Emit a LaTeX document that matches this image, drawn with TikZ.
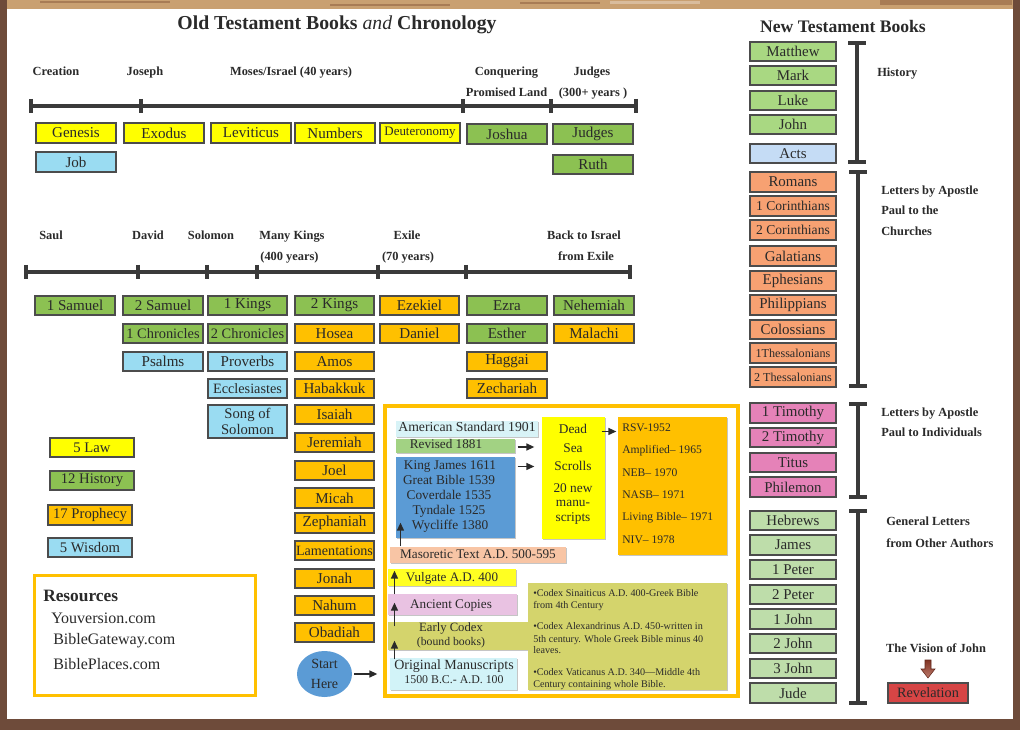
\documentclass[tikz,border=0pt]{standalone}
\usepackage{fontspec}
\setmainfont{Liberation Serif}
\usetikzlibrary{arrows.meta,shapes.geometric,calc,shadows}
\definecolor{otY}{HTML}{FFFF00}
\definecolor{otG}{HTML}{8CC152}
\definecolor{otO}{HTML}{FFC000}
\definecolor{otB}{HTML}{9ADCF2}
\definecolor{ntG}{HTML}{A9D882}
\definecolor{ntA}{HTML}{C5DCF5}
\definecolor{ntS}{HTML}{F7A172}
\definecolor{ntP}{HTML}{E582B8}
\definecolor{ntL}{HTML}{BEDDAA}
\definecolor{ntR}{HTML}{D64545}
\definecolor{stB}{HTML}{5B9BD5}
\definecolor{kjB}{HTML}{5B9BD5}
\definecolor{amC}{HTML}{D8F3F7}
\definecolor{rvG}{HTML}{A2D283}
\definecolor{msP}{HTML}{F8C5A5}
\definecolor{vgY}{HTML}{FFFF22}
\definecolor{acP}{HTML}{E9C2E2}
\definecolor{cdO}{HTML}{D4D46C}
\definecolor{orC}{HTML}{D2F3F8}
\definecolor{gold}{HTML}{FFC000}
\definecolor{ink}{HTML}{2A2A2A}
\definecolor{rulec}{HTML}{3A3A3A}
\definecolor{frameB}{HTML}{6E4B3A}
\definecolor{wood}{HTML}{C9A071}
\definecolor{woodD}{HTML}{A87C55}
\definecolor{arrR}{HTML}{A0402C}

% \BK[opts]{name}{fill}{x1}{y1}{x2}{y2}{text}
\newcommand{\BK}[8][]{\node[bookbox,fill=#3,minimum width={(#6-#4)*0.75pt},minimum height={(#7-#5)*0.75pt},#1] (#2) at ({(#4+#6)/2},{(#5+#7)/2}) {#8};}

\begin{document}
\begin{tikzpicture}[x=0.75pt,y=-0.75pt,
 bookbox/.style={draw=black!70,line width=0.8pt,inner sep=0pt,text=ink,font=\fontsize{11.3}{12}\selectfont},
 ntbox/.style={font=\fontsize{11.2}{12}\selectfont},
 lgbox/.style={font=\fontsize{11}{12}\selectfont},
 lbl/.style={font=\bfseries\fontsize{9.3}{11}\selectfont,text=ink,inner sep=0pt,anchor=base},
 lblw/.style={lbl,anchor=base west},
 msbox/.style={draw=none,drop shadow={shadow xshift=0.8pt,shadow yshift=-0.8pt,fill=black!45}},
 mstxt/.style={font=\fontsize{10}{11}\selectfont,text=ink,inner sep=0pt,anchor=base},
 nvtxt/.style={font=\fontsize{8.7}{10}\selectfont,text=ink,inner sep=0pt,anchor=base west},
 cdtxt/.style={font=\fontsize{7.6}{9}\selectfont,text=ink,inner sep=0pt,anchor=base west},
 restxt/.style={font=\fontsize{12}{14}\selectfont,text=ink,inner sep=0pt,anchor=base west},
 arr/.style={-{Triangle[length=6pt,width=5pt]},line width=1.4pt,draw=ink},
 tl/.style={line width=2.3pt,draw=rulec},
 tickmark/.style={line width=2.6pt,draw=rulec},
 brk/.style={line width=2.3pt,draw=rulec},
 brkcap/.style={line width=3pt,draw=rulec},
]
\useasboundingbox (0,0) rectangle (1028,730);

% ---------- paper and frame ----------
\fill[white] (0,0) rectangle (1028,730);
\fill[wood] (0,0) rectangle (1020,9);
\fill[woodD] (40,1) rectangle (170,3);
\fill[woodD] (330,4) rectangle (450,6);
\fill[woodD] (520,2) rectangle (600,4);
\fill[wood!70!white] (610,1) rectangle (700,4);
\fill[woodD] (880,0) rectangle (1012,5);
\fill[frameB] (0,0) rectangle (7,730);
\fill[frameB] (1013,0) rectangle (1020,730);
\fill[frameB] (0,719) rectangle (1020,730);

% ---------- titles ----------
\node[font=\bfseries\fontsize{14.8}{17}\selectfont,text=ink,anchor=base,inner sep=0pt] (ottitle) at (337,30) {Old Testament Books {\mdseries\itshape and} Chronology};
\node[font=\bfseries\fontsize{13.2}{15}\selectfont,text=ink,anchor=base,inner sep=0pt] (nttitle) at (843,33) {New Testament Books};

% ---------- timeline 1 ----------
\node[lbl] (creation) at (56,76) {Creation};
\node[lbl] (joseph) at (145,76) {Joseph};
\node[lbl] (moses) at (291,76) {Moses/Israel (40 years)};
\node[lbl] (conq) at (506.5,76) {Conquering};
\node[lbl] (promland) at (506.5,97) {Promised Land};
\node[lbl] (judgesl) at (592,76) {Judges};
\node[lbl] (judgesy) at (593,97) {(300+ years )};
\draw[tl] (31,106) -- (636,106);
\foreach \x in {31,141,463,551,636} \draw[tickmark] (\x,99) -- (\x,113);

\BK{genesis}{otY}{36}{123}{116}{143}{Genesis}
\BK{exodus}{otY}{124}{123}{204}{143}{Exodus}
\BK{leviticus}{otY}{211}{123}{291}{143}{Leviticus}
\BK{numbers}{otY}{295}{123}{375}{143}{Numbers}
\BK[font=\fontsize{9.7}{10}\selectfont]{deut}{otY}{380}{123}{460}{143}{Deuteronomy}
\BK{joshua}{otG}{467}{124}{547}{144}{Joshua}
\BK{judges}{otG}{553}{124}{633}{144}{Judges}
\BK{job}{otB}{36}{152}{116}{172}{Job}
\BK{ruth}{otG}{553}{155}{633}{174}{Ruth}

% ---------- timeline 2 ----------
\node[lbl] (saul) at (51,240) {Saul};
\node[lbl] (david) at (148,240) {David};
\node[lbl] (solomon) at (211,240) {Solomon};
\node[lbl] (manyk) at (292,240) {Many Kings};
\node[lbl] (manyy) at (289.5,261) {(400 years)};
\node[lbl] (exile) at (407,240) {Exile};
\node[lbl] (exiley) at (408,261) {(70 years)};
\node[lbl] (back) at (584,240) {Back to Israel};
\node[lbl] (fromex) at (586,261) {from Exile};
\draw[tl] (26,272) -- (630,272);
\foreach \x in {26,138,207,257,378,466,630} \draw[tickmark] (\x,265) -- (\x,279);

\BK{sam1}{otG}{35}{296}{115}{315}{1 Samuel}
\BK{sam2}{otG}{123}{296}{203}{315}{2 Samuel}
\BK{kgs1}{otG}{208}{296}{287}{315}{1 Kings}
\BK{kgs2}{otG}{295}{296}{374}{315}{2 Kings}
\BK{ezekiel}{otO}{380}{296}{459}{315}{Ezekiel}
\BK{ezra}{otG}{467}{296}{547}{315}{Ezra}
\BK{nehemiah}{otG}{554}{296}{634}{315}{Nehemiah}

\BK[font=\fontsize{10.8}{11}\selectfont]{chr1}{otG}{123}{324}{203}{343}{1 Chronicles}
\BK[font=\fontsize{10.8}{11}\selectfont]{chr2}{otG}{208}{324}{287}{343}{2 Chronicles}
\BK{hosea}{otO}{295}{324}{374}{343}{Hosea}
\BK{daniel}{otO}{380}{324}{459}{343}{Daniel}
\BK{esther}{otG}{467}{324}{547}{343}{Esther}
\BK{malachi}{otO}{554}{324}{634}{343}{Malachi}

\BK{psalms}{otB}{123}{352}{203}{371}{Psalms}
\BK{proverbs}{otB}{208}{352}{287}{371}{Proverbs}
\BK{amos}{otO}{295}{352}{374}{371}{Amos}
\BK{haggai}{otO}{467}{352}{547}{371}{Haggai}

\BK[font=\fontsize{10.7}{11}\selectfont]{eccl}{otB}{208}{379}{287}{398}{Ecclesiastes}
\BK{habakkuk}{otO}{295}{379}{374}{398}{Habakkuk}
\BK{zechariah}{otO}{467}{379}{547}{398}{Zechariah}

\BK[align=center,font=\fontsize{11}{12}\selectfont]{song}{otB}{208}{405}{287}{438}{Song of\\Solomon}
\BK{isaiah}{otO}{295}{405}{374}{424}{Isaiah}
\BK{jeremiah}{otO}{295}{433}{374}{452}{Jeremiah}
\BK{joel}{otO}{295}{461}{374}{480}{Joel}
\BK{micah}{otO}{295}{488}{374}{508}{Micah}
\BK{zeph}{otO}{295}{513}{374}{533}{Zephaniah}
\BK[font=\fontsize{10.6}{11}\selectfont]{lam}{otO}{295}{541}{374}{560}{Lamentations}
\BK{jonah}{otO}{295}{569}{374}{588}{Jonah}
\BK{nahum}{otO}{295}{596}{374}{615}{Nahum}
\BK{obadiah}{otO}{295}{623}{374}{642}{Obadiah}

% ---------- legend ----------
\BK[lgbox]{law}{otY}{50}{438}{134}{457}{5 Law}
\BK[lgbox]{hist}{otG}{50}{471}{134}{490}{12 History}
\BK[lgbox]{proph}{otO}{48}{505}{132}{525}{17 Prophecy}
\BK[lgbox]{wisdom}{otB}{48}{538}{132}{557}{5 Wisdom}

% ---------- resources ----------
\node[draw=gold,line width=2.2pt,minimum width={221*0.75pt},minimum height={120*0.75pt},inner sep=0pt] (res) at (145,635.5) {};
\node[font=\bfseries\fontsize{13}{15}\selectfont,text=ink,inner sep=0pt,anchor=base west] (restitle) at (43,601) {Resources};
\node[restxt] (res1) at (51,623) {Youversion.com};
\node[restxt] (res2) at (53,644) {BibleGateway.com};
\node[restxt] (res3) at (53,669) {BiblePlaces.com};

% ---------- manuscripts ----------
\node[draw=gold,line width=3pt,minimum width={353*0.75pt},minimum height={289*0.75pt},inner sep=0pt] (msframe) at (561,551) {};

\BK[msbox]{amstd}{amC}{396}{421}{538}{437}{}
\node[mstxt,font=\fontsize{10.3}{11}\selectfont] (amstdT) at (467,432) {American Standard 1901};
\BK[msbox]{revd}{rvG}{396}{439}{515}{453}{}
\node[mstxt,font=\fontsize{9.9}{11}\selectfont] (revdT) at (446,449) {Revised 1881};
\BK[msbox]{kj}{kjB}{396}{457}{515}{538}{}
\node[mstxt] (kj1) at (450,470) {King James 1611};
\node[mstxt] (kj2) at (449,485) {Great Bible 1539};
\node[mstxt] (kj3) at (449,500) {Coverdale 1535};
\node[mstxt] (kj4) at (449,515) {Tyndale 1525};
\node[mstxt] (kj5) at (450,530) {Wycliffe 1380};

\BK[msbox]{dss}{otY}{542}{417}{605}{539}{}
\node[mstxt] (dss1) at (573,434) {Dead};
\node[mstxt] (dss2) at (573,453) {Sea};
\node[mstxt] (dss3) at (573,471) {Scrolls};
\node[mstxt] (dss4) at (573,493) {20 new};
\node[mstxt] (dss5) at (573,507) {manu-};
\node[mstxt] (dss6) at (573,522) {scripts};

\BK[msbox]{nv}{otO}{618}{417}{727}{555}{}
\node[nvtxt] (nv1) at (622,432) {RSV-1952};
\node[nvtxt] (nv2) at (622,454) {Amplified– 1965};
\node[nvtxt] (nv3) at (622,477) {NEB– 1970};
\node[nvtxt] (nv4) at (622,499) {NASB– 1971};
\node[nvtxt] (nv5) at (622,521) {Living Bible– 1971};
\node[nvtxt] (nv6) at (622,543) {NIV– 1978};

\BK[msbox]{maso}{msP}{390}{547}{566}{563}{}
\node[mstxt,font=\fontsize{9.9}{11}\selectfont] (masoT) at (478,558) {Masoretic Text A.D. 500-595};
\BK[msbox]{vulg}{vgY}{388}{569}{516}{586}{}
\node[mstxt,font=\fontsize{9.8}{11}\selectfont] (vulgT) at (452,581) {Vulgate A.D. 400};
\BK[msbox]{anc}{acP}{388}{594}{517}{615}{}
\node[mstxt,font=\fontsize{9.9}{11}\selectfont] (ancT) at (451,608) {Ancient Copies};
\BK[msbox]{early}{cdO}{388}{622}{528}{650}{}
\BK[msbox]{codex}{cdO}{528}{583}{727}{690}{}
\node[mstxt,font=\fontsize{9.5}{11}\selectfont] (early1) at (451,631.5) {Early Codex};
\node[mstxt,font=\fontsize{8.8}{10}\selectfont] (early2) at (451,645) {(bound books)};
\node[cdtxt] (cd1) at (533,596) {\textbullet Codex Sinaiticus A.D. 400-Greek Bible};
\node[cdtxt] (cd2) at (533,608) {from 4th Century};
\node[cdtxt] (cd3) at (533,629) {\textbullet Codex Alexandrinus A.D. 450-written in};
\node[cdtxt] (cd4) at (533,642) {5th century. Whole Greek Bible minus 40};
\node[cdtxt] (cd5) at (533,653) {leaves.};
\node[cdtxt] (cd6) at (533,675) {\textbullet Codex Vaticanus A.D. 340—Middle 4th};
\node[cdtxt] (cd7) at (533,687) {Century containing whole Bible.};
\BK[msbox]{orig}{orC}{390}{658}{517}{690}{}
\node[mstxt,font=\fontsize{10.5}{11}\selectfont] (orig1) at (454,669) {Original Manuscripts};
\node[mstxt,font=\fontsize{8.9}{10}\selectfont] (orig2) at (454,683) {1500 B.C.- A.D. 100};

\node[ellipse,fill=stB,minimum width={55*0.75pt},minimum height={46*0.75pt},inner sep=0pt,align=center,font=\fontsize{10.5}{15}\selectfont,text=ink] (start) at (324.5,674) {Start\\Here};

% arrows
\draw[arr,shorten <=1.5pt,shorten >=9pt] (start.east) -- (start.east -| orig.west);
\draw[arr] ($(orig.north west)+(5,2)$) -- ($(early.south west)+(7,-10)$);
\draw[arr] ($(early.north west)+(7,5)$) -- ($(anc.south west)+(7,-13)$);
\draw[arr] ($(anc.north west)+(7,1)$) -- ($(vulg.south west)+(7,-16)$);
\draw[arr] ($(maso.north west)+(11,0)$) -- ($(kj.south west)+(5,-16)$);
\draw[arr] ($(revd.east)+(2,1)$) -- ($(revd.east -| dss.west)+(-7,1)$);
\draw[arr] ($(kj.north east)+(2,10)$) -- ($(kj.north east -| dss.west)+(-7,10)$);
\draw[arr] ($(dss.north east)+(-4,15)$) -- ($(nv.north west)+(-1,15)$);

% ---------- New Testament ----------
\BK[ntbox]{matthew}{ntG}{750}{42}{836}{61}{Matthew}
\BK[ntbox]{mark}{ntG}{750}{66}{836}{85}{Mark}
\BK[ntbox]{luke}{ntG}{750}{91}{836}{110}{Luke}
\BK[ntbox]{john}{ntG}{750}{115}{836}{134}{John}
\BK[ntbox]{acts}{ntA}{750}{144}{836}{163}{Acts}

\BK[ntbox]{romans}{ntS}{750}{172}{836}{192}{Romans}
\BK[font=\fontsize{10.2}{11}\selectfont]{cor1}{ntS}{750}{196}{836}{216}{1 Corinthians}
\BK[font=\fontsize{10.2}{11}\selectfont]{cor2}{ntS}{750}{220}{836}{240}{2 Corinthians}
\BK[ntbox]{galatians}{ntS}{750}{246}{836}{266}{Galatians}
\BK[ntbox]{ephesians}{ntS}{750}{271}{836}{291}{Ephesians}
\BK[ntbox]{philippians}{ntS}{750}{295}{836}{315}{Philippians}
\BK[ntbox]{colossians}{ntS}{750}{320}{836}{339}{Colossians}
\BK[font=\fontsize{9.1}{10}\selectfont]{thes1}{ntS}{750}{343}{836}{363}{1Thessalonians}
\BK[font=\fontsize{9.1}{10}\selectfont]{thes2}{ntS}{750}{367}{836}{387}{2 Thessalonians}

\BK[ntbox]{tim1}{ntP}{750}{403}{836}{423}{1 Timothy}
\BK[ntbox]{tim2}{ntP}{750}{428}{836}{447}{2 Timothy}
\BK[ntbox]{titus}{ntP}{750}{453}{836}{472}{Titus}
\BK[ntbox]{philemon}{ntP}{750}{477}{836}{497}{Philemon}

\BK[ntbox]{hebrews}{ntL}{750}{511}{836}{530}{Hebrews}
\BK[ntbox]{james}{ntL}{750}{535}{836}{555}{James}
\BK[ntbox]{pet1}{ntL}{750}{560}{836}{579}{1 Peter}
\BK[ntbox]{pet2}{ntL}{750}{585}{836}{604}{2 Peter}
\BK[ntbox]{jn1}{ntL}{750}{609}{836}{629}{1 John}
\BK[ntbox]{jn2}{ntL}{750}{634}{836}{653}{2 John}
\BK[ntbox]{jn3}{ntL}{750}{659}{836}{678}{3 John}
\BK[ntbox]{jude}{ntL}{750}{683}{836}{703}{Jude}

\BK[font=\fontsize{10.7}{11}\selectfont]{revl}{ntR}{888}{683}{968}{703}{Revelation}

% brackets
\draw[brk] (857,43) -- (857,162);
\draw[brkcap] (848,43) -- (866,43) (848,162) -- (866,162);
\draw[brk] (858,172) -- (858,386);
\draw[brkcap] (849,172) -- (867,172) (849,386) -- (867,386);
\draw[brk] (858,404) -- (858,497);
\draw[brkcap] (849,404) -- (867,404) (849,497) -- (867,497);
\draw[brk] (858,511) -- (858,703);
\draw[brkcap] (849,511) -- (867,511) (849,703) -- (867,703);

\node[lblw] (histl) at (877,77) {History};
\node[lblw] (lpc1) at (881,195) {Letters by Apostle};
\node[lblw] (lpc2) at (881,215) {Paul to the};
\node[lblw] (lpc3) at (881,236) {Churches};
\node[lblw] (lpi1) at (881,417) {Letters by Apostle};
\node[lblw] (lpi2) at (881,437) {Paul to Individuals};
\node[lblw] (gl1) at (886,526) {General Letters};
\node[lblw] (gl2) at (886,547) {from Other Authors};
\node[lbl] (vision) at (936,652) {The Vision of John};

\shade[top color=arrR!80!black,bottom color=arrR!70!white,draw=arrR!60!black,line width=0.4pt]
 (925,660) -- (931,660) -- (931,669) -- (935,669) -- (928,678) -- (921,669) -- (925,669) -- cycle;

\end{tikzpicture}
\end{document}
